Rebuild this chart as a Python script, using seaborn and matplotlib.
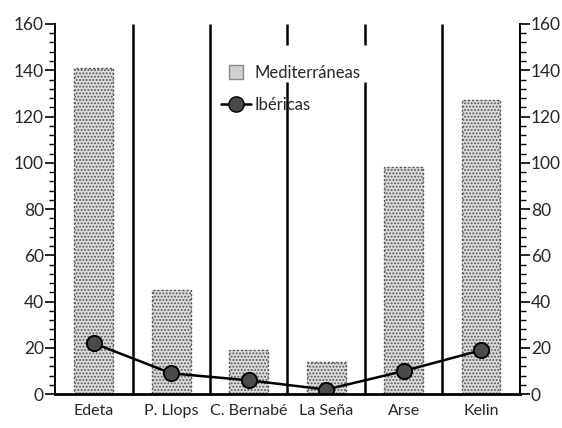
import matplotlib
matplotlib.use("Agg")
import matplotlib.pyplot as plt
import numpy as np
import pandas as pd
import seaborn as sns
from matplotlib.lines import Line2D
from matplotlib.ticker import MultipleLocator

# values
sites = ["Edeta", "P. Llops", "C. Bernabé", "La Seña", "Arse", "Kelin"]
mediterraneas = [141, 45, 19, 14, 98, 127]
ibericas = [22, 9, 6, 2, 10, 19]

df = pd.DataFrame({"site": sites, "Mediterráneas": mediterraneas, "Ibéricas": ibericas})

sns.set_style("white")
plt.rcParams['font.family'] = ['Lato', 'DejaVu Sans']
plt.rcParams['hatch.color'] = '#6e6e6e'
plt.rcParams['hatch.linewidth'] = 0.9

fig = plt.figure(figsize=(5.62, 4.28), dpi=100)
ax = fig.add_axes([0.098, 0.079, 0.827, 0.865])

sns.barplot(data=df, x="site", y="Mediterráneas", color="#dadada",
            width=0.5, ax=ax, saturation=1)
for p in ax.patches:
    p.set_hatch(".....")
    p.set_edgecolor("#555555")
    p.set_linestyle((0, (1.5, 1.5)))
    p.set_linewidth(1)

sns.pointplot(data=df, x="site", y="Ibéricas", color="black", ax=ax,
              markers="o", markersize=11, linewidth=1.8,
              markerfacecolor="#4a4a4a", markeredgecolor="black")

# separators between sites
for i in range(len(sites) - 1):
    xpos = i + 0.5
    if i in (2, 3):
        ax.vlines(xpos, 0, 135, color="black", lw=1.8)
        ax.vlines(xpos, 151, 160, color="black", lw=1.8)
    else:
        ax.vlines(xpos, 0, 160, color="black", lw=1.8)

ax.set_xlim(-0.5, len(sites) - 0.5)
ax.set_ylim(0, 160)
ax.set_xlabel("")
ax.set_ylabel("")

ax.yaxis.set_major_locator(MultipleLocator(20))
ax.yaxis.set_minor_locator(MultipleLocator(4))
ax.tick_params(axis="y", which="major", direction="out", length=7, width=1.2,
               left=True, right=True, labelleft=True, labelright=True,
               labelsize=12.5, pad=1, color="black")
ax.tick_params(axis="y", which="minor", direction="out", length=4, width=1,
               left=True, right=True, color="black")
ax.tick_params(axis="x", length=0, labelsize=11.5, pad=7)

for side in ["left", "right", "bottom"]:
    ax.spines[side].set_visible(True)
    ax.spines[side].set_color("black")
    ax.spines[side].set_linewidth(1.4)
ax.spines["bottom"].set_linewidth(2)
ax.spines["top"].set_visible(False)

handles = [
    Line2D([], [], marker="s", linestyle="none", markersize=10,
           markerfacecolor="#cfcfcf", markeredgecolor="#8a8a8a"),
    Line2D([], [], marker="o", color="black", lw=1.8, markersize=11,
           markerfacecolor="#4a4a4a", markeredgecolor="black"),
]
ax.legend(handles, ["Mediterráneas", "Ibéricas"], loc="upper left",
          bbox_to_anchor=(0.325, 0.93), frameon=False, fontsize=12,
          handlelength=1.8, labelspacing=0.95, handletextpad=0.2)

fig.savefig("out.png", dpi=100)
